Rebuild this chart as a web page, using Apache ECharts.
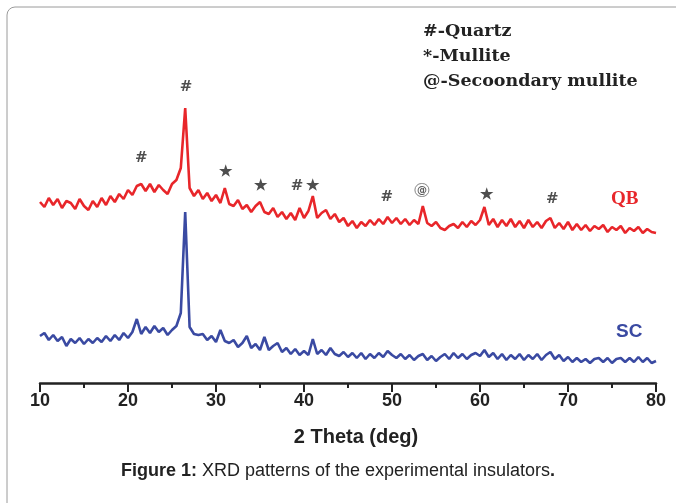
<!DOCTYPE html>
<html>
<head>
<meta charset="utf-8">
<title>XRD patterns</title>
<script src="https://cdn.jsdelivr.net/npm/echarts@6/dist/echarts.min.js"></script>
<style>
	html, body { margin: 0; padding: 0; background: #fff; }
	#chart { width: 676px; height: 503px; }
</style>
</head>
<body>
<div id="chart"></div>
<script>
// 2θ 从10到80，每0.5度一个点
var thetaStart = 10;
var thetaStep = 0.5;

// QB 样品 (红线)
var qbCounts = [
	181, 176, 185, 178, 184, 175, 182, 180, 174, 184,
	177, 173, 182, 176, 185, 178, 187, 181, 189, 184,
	193, 188, 197, 199, 192, 199, 191, 198, 193, 189,
	199, 203, 215, 275, 195, 187, 193, 184, 190, 182,
	188, 180, 195, 179, 177, 183, 174, 178, 171, 177,
	181, 171, 169, 175, 166, 171, 164, 170, 163, 175,
	165, 172, 187, 165, 170, 173, 164, 169, 161, 165,
	157, 162, 155, 161, 157, 163, 158, 164, 159, 166,
	160, 165, 159, 164, 158, 163, 159, 177, 160, 157,
	161, 155, 153, 157, 159, 155, 161, 156, 162, 158,
	163, 176, 158, 164, 156, 163, 157, 164, 156, 162,
	155, 163, 156, 161, 155, 162, 165, 155, 160, 154,
	161, 153, 159, 153, 158, 152, 157, 154, 158, 151,
	156, 153, 157, 150, 155, 152, 156, 150, 154, 151,
	150
];

// SC 样品 (蓝线)
var scCounts = [
	47, 50, 43, 48, 42, 46, 37, 44, 40, 45,
	39, 44, 40, 45, 41, 47, 42, 48, 43, 50,
	45, 51, 64, 49, 56, 50, 57, 51, 55, 48,
	53, 57, 70, 171, 56, 49, 48, 49, 43, 47,
	41, 53, 42, 40, 43, 36, 40, 47, 35, 39,
	33, 46, 33, 37, 40, 31, 35, 29, 34, 28,
	32, 28, 44, 29, 33, 28, 35, 29, 27, 31,
	26, 30, 25, 30, 24, 29, 25, 30, 26, 32,
	28, 25, 29, 24, 28, 23, 27, 29, 23, 27,
	22, 26, 29, 24, 30, 25, 29, 24, 28, 30,
	27, 33, 26, 30, 24, 29, 23, 28, 24, 29,
	23, 28, 24, 29, 23, 28, 31, 24, 28, 22,
	26, 21, 25, 21, 24, 20, 24, 25, 21, 25,
	20, 24, 25, 21, 25, 21, 26, 21, 25, 20,
	22
];

// 峰标记: 位置, 高度, 符号
var peakTheta = [26.6, 21.5, 31.1, 35.1, 39.2, 41.0, 49.4, 60.7, 68.2];
var peakHeight = [296, 225, 211, 197, 197, 197, 186, 188, 184];
var peakMark = ['#', '#', '★', '★', '#', '★', '#', '★', '#'];
var secTheta = 53.4;
var secHeight = 193;

var legendLines = ['#-Quartz', '*-Mullite', '@-Secoondary mullite'];

function toPairs(arr) {
	var out = [];
	for (var i = 0; i < arr.length; i++) {
		out.push([thetaStart + i * thetaStep, arr[i]]);
	}
	return out;
}

var markData = [];
for (var i = 0; i < peakTheta.length; i++) {
	markData.push({ value: [peakTheta[i], peakHeight[i]], name: peakMark[i] });
}

var chart = echarts.init(document.getElementById('chart'));
var option = {
	animation: false,
	grid: {
		left: 40,
		right: 20,
		top: 83,
		bottom: 120
	},
	xAxis: {
		type: 'value',
		min: 10,
		max: 80,
		interval: 10,
		name: '2 Theta (deg)',
		nameLocation: 'middle',
		nameGap: 44,
		nameTextStyle: {
			fontFamily: 'Liberation Sans',
			fontWeight: 'bold',
			fontSize: 20,
			color: '#222',
			padding: [0, 0, 0, 16]
		},
		axisLine: {
			lineStyle: { color: '#222', width: 2.5 }
		},
		axisTick: {
			length: 9,
			lineStyle: { color: '#222', width: 2 }
		},
		minorTick: {
			show: true,
			splitNumber: 2,
			length: 5,
			lineStyle: { color: '#222', width: 2 }
		},
		axisLabel: {
			fontFamily: 'Liberation Sans',
			fontWeight: 'bold',
			fontSize: 18,
			color: '#222',
			margin: 9
		},
		splitLine: { show: false }
	},
	yAxis: {
		type: 'value',
		min: 0,
		max: 300,
		show: false
	},
	series: [{
		name: 'QB',
		type: 'line',
		data: toPairs(qbCounts),
		symbol: 'none',
		lineStyle: { color: '#e8262a', width: 2.6 }
	}, {
		name: 'SC',
		type: 'line',
		data: toPairs(scCounts),
		symbol: 'none',
		lineStyle: { color: '#3a4aa2', width: 2.6 }
	}, {
		// 峰的标记符号
		type: 'scatter',
		data: markData,
		symbolSize: 0,
		label: {
			show: true,
			position: 'inside',
			formatter: function (p) { return p.name; },
			fontFamily: 'DejaVu Serif',
			fontWeight: 'bold',
			fontSize: 15,
			color: '#222'
		}
	}, {
		type: 'scatter',
		data: [[secTheta, secHeight]],
		symbolSize: 0,
		label: {
			show: true,
			position: 'inside',
			formatter: '@',
			fontFamily: 'DejaVu Sans',
			fontWeight: 'bold',
			fontSize: 10,
			color: '#333',
			borderColor: '#666',
			borderWidth: 1,
			borderRadius: 8,
			padding: [2, 2, 1, 2]
		}
	}],
	graphic: [{
		type: 'rect',
		shape: { x: 7, y: 7, width: 720, height: 530, r: 8 },
		style: { fill: 'none', stroke: '#9a9a9a', lineWidth: 1 },
		silent: true
	}, {
		type: 'text',
		left: 423,
		top: 19,
		style: {
			text: legendLines.join('\n'),
			font: 'bold 17.5px "DejaVu Serif"',
			lineHeight: 25,
			fill: '#222'
		}
	}, {
		type: 'text',
		left: 611,
		top: 190,
		style: {
			text: 'QB',
			font: 'bold 19px "Liberation Serif"',
			fill: '#e8262a'
		}
	}, {
		type: 'text',
		left: 616,
		top: 322,
		style: {
			text: 'SC',
			font: 'bold 19px "Liberation Sans"',
			fill: '#3a4aa2'
		}
	}, {
		type: 'text',
		left: 'center',
		top: 462,
		style: {
			text: '{b|Figure 1:} XRD patterns of the experimental insulators{b|.}',
			font: '18px "Liberation Sans"',
			fill: '#222',
			rich: {
				b: { font: 'bold 18px "Liberation Sans"', fill: '#222' }
			}
		}
	}]
};
chart.setOption(option);
</script>
</body>
</html>
